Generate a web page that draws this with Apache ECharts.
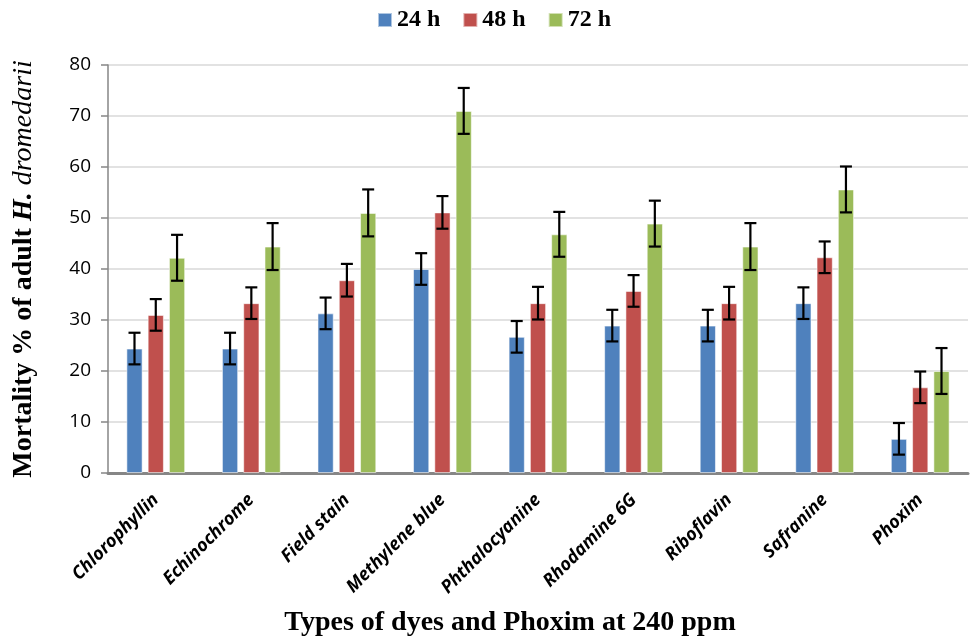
<!DOCTYPE html>
<html><head><meta charset="utf-8">
<script src="https://cdn.jsdelivr.net/npm/echarts@6/dist/echarts.min.js"></script>
<style>html,body{margin:0;padding:0;background:#fff}#c{width:971px;height:640px}</style>
</head><body><div id="c"></div>
<script>
const categories = ['Chlorophyllin','Echinochrome','Field stain','Methylene blue','Phthalocyanine','Rhodamine 6G','Riboflavin','Safranine','Phoxim'];
const seriesNames = ['24 h','48 h','72 h'];
const v24 = [24.4, 24.4, 31.3, 40.0, 26.7, 28.9, 28.9, 33.3, 6.7];
const v48 = [31.0, 33.3, 37.8, 51.1, 33.3, 35.7, 33.3, 42.3, 16.8];
const v72 = [42.2, 44.4, 51.0, 71.0, 46.8, 48.9, 44.4, 55.6, 20.0];
const e24 = [3.1, 3.1, 3.1, 3.1, 3.1, 3.1, 3.1, 3.1, 3.1];
const e48 = [3.1, 3.1, 3.2, 3.2, 3.2, 3.1, 3.2, 3.1, 3.1];
const e72 = [4.5, 4.6, 4.6, 4.5, 4.4, 4.5, 4.6, 4.5, 4.5];
const yTicks = [0,10,20,30,40,50,60,70,80];

const colors = ['#4F81BD','#C0504D','#9BBB59'];
const values = [v24, v48, v72];
const errs = [e24, e48, e72];
const BAR_FRAC = 0.17, GAP = 0.31;
const offsets = [-(BAR_FRAC*(1+GAP)), 0, BAR_FRAC*(1+GAP)];

const chart = echarts.init(document.getElementById('c'), null, {renderer:'canvas'});
const barSeries = values.map((vals, i) => ({
  name: seriesNames[i], type: 'bar', data: vals,
  barWidth: (BAR_FRAC*100)+'%', barGap: (GAP*100)+'%',
  itemStyle: {color: colors[i], borderColor: 'rgba(255,255,255,0.55)', borderWidth: 1},
  z: 2
}));
const errSeries = values.map((vals, i) => ({
  type: 'custom', name: 'err'+i, z: 5, silent: true,
  data: vals.map((v, k) => [k, v, errs[i][k]]),
  renderItem: function(params, api){
    const k = api.value(0), v = api.value(1), e = api.value(2);
    const bw = api.size([1,0])[0];
    const c = api.coord([k, v]);
    const x = c[0] + offsets[i]*bw;
    const top = api.coord([k, v+e])[1];
    const bot = api.coord([k, v-e])[1];
    const hw = 6;
    const st = {stroke:'#000', lineWidth:2.2};
    return {type:'group', children:[
      {type:'line', shape:{x1:x,y1:top,x2:x,y2:bot}, style:st},
      {type:'line', shape:{x1:x-hw,y1:top,x2:x+hw,y2:top}, style:st},
      {type:'line', shape:{x1:x-hw,y1:bot,x2:x+hw,y2:bot}, style:st}
    ]};
  }
}));

chart.setOption({
  animation: false,
  backgroundColor: '#fff',
  legend: {
    data: seriesNames, left: 377, top: 8, padding: 0, itemWidth: 14, itemHeight: 14, itemGap: 22,
    icon: 'rect',
    textStyle: {fontFamily: 'Liberation Serif', fontWeight: 'bold', fontSize: 24, color: '#000'}
  },
  title: {
    text: 'Types of dyes and Phoxim at 240 ppm', left: 510, top: 609, padding: 0, textAlign: 'center',
    textStyle: {fontFamily: 'Liberation Serif', fontWeight: 'bold', fontSize: 28, color: '#000'}
  },
  grid: {left: 108, right: 3, top: 65, bottom: 167, containLabel: false},
  xAxis: {
    type: 'category', data: categories,
    axisLine: {lineStyle: {color: '#868686', width: 3}},
    axisTick: {show: false},
    axisLabel: {
      interval: 0, rotate: 45, margin: 24, color: '#000',
      fontFamily: 'Open Sans', fontWeight: 'bold', fontStyle: 'italic', fontSize: 18
    }
  },
  yAxis: {
    type: 'value', min: 0, max: 80, interval: 10,
    name: '{b|Mortality % of adult }{bi|H.}{i| dromedarii}',
    nameLocation: 'middle', nameRotate: 90, nameGap: 70,
    nameTextStyle: {
      rich: {
        b: {fontFamily: 'Liberation Serif', fontWeight: 'bold', fontSize: 28, color: '#000'},
        bi: {fontFamily: 'Liberation Serif', fontWeight: 'bold', fontStyle: 'italic', fontSize: 28, color: '#000'},
        i: {fontFamily: 'Liberation Serif', fontStyle: 'italic', fontSize: 28, color: '#000'}
      }
    },
    axisLine: {show: true, lineStyle: {color: '#868686', width: 1.5}},
    axisTick: {show: true, length: 7, lineStyle: {color: '#868686', width: 1.5}},
    axisLabel: {margin: 17, color: '#000', fontFamily: 'Open Sans', fontSize: 19,
      formatter: v => yTicks.includes(v) ? String(v) : ''},
    splitLine: {lineStyle: {color: '#D9D9D9', width: 1.5}}
  },
  series: barSeries.concat(errSeries)
});
</script>
</body></html>
